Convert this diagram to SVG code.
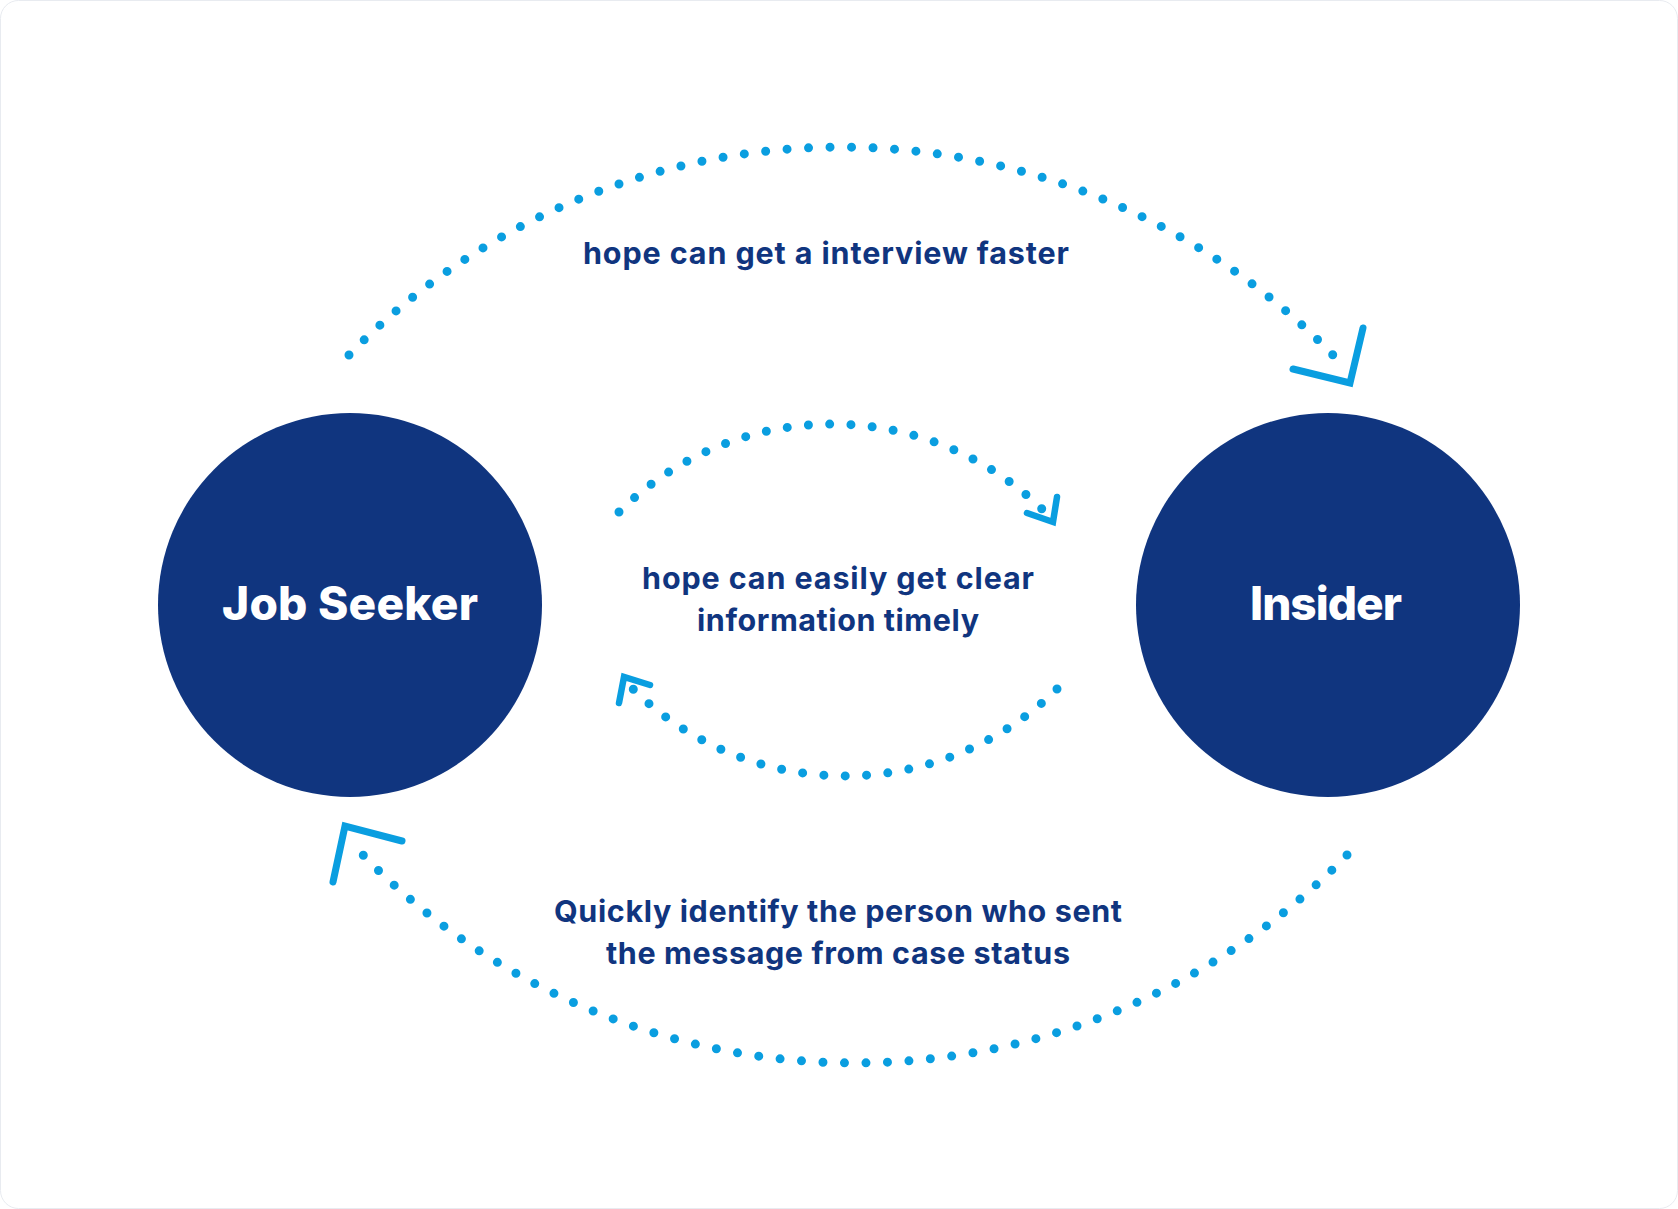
<svg xmlns="http://www.w3.org/2000/svg" width="1678" height="1209" viewBox="0 0 1678 1209">
  <style>
    .node { fill: #10357f; }
    .nodeText { font-family: "Inter", "Lato", "Liberation Sans", sans-serif; font-weight: 800; font-size: 46px; fill: #ffffff; text-anchor: middle; font-variant-ligatures: none; }
    .label { font-family: "Inter", "Lato", "Liberation Sans", sans-serif; font-weight: 700; font-size: 30.5px; fill: #10357f; text-anchor: middle; font-variant-ligatures: none; }
    .dots { fill: none; stroke: #0a9ee0; stroke-width: 9; stroke-linecap: round; stroke-dasharray: 0 1; }
    .head { fill: none; stroke: #0a9ee0; stroke-linecap: round; stroke-linejoin: miter; }
  </style>
  <rect x="0.5" y="0.5" width="1677" height="1208" rx="18" ry="18" fill="#ffffff" stroke="#e8ebf0" stroke-width="1"/>

  <g id="connectors">
    <g id="edge-top">
      <path class="dots" d="M 349 355 A 686 686 0 0 1 1333 355" pathLength="51.02"/>
      <polyline class="head" stroke-width="7" points="1293,369 1350,383 1363,328"/>
    </g>
    <g id="edge-bottom">
      <path class="dots" d="M 1347 855 A 686 686 0 0 1 363 855" pathLength="51.02"/>
      <polyline class="head" stroke-width="7" points="402,841 345,826 333,882"/>
    </g>
    <g id="edge-mid-top">
      <path class="dots" d="M 619 512 A 302 302 0 0 1 1042 509" pathLength="22.02"/>
      <polyline class="head" stroke-width="6.5" points="1027,513 1053,522 1057,497"/>
    </g>
    <g id="edge-mid-bottom">
      <path class="dots" d="M 1057 689 A 302 302 0 0 1 633 689" pathLength="22.02"/>
      <polyline class="head" stroke-width="6.5" points="650,685 624,677 619,703"/>
    </g>
  </g>

  <g id="labels">
    <text class="label" x="826" y="264" textLength="486" lengthAdjust="spacing">hope can get a interview faster</text>
    <text class="label" x="838" y="589" textLength="392" lengthAdjust="spacing">hope can easily get clear</text>
    <text class="label" x="838" y="631" textLength="282" lengthAdjust="spacing">information timely</text>
    <text class="label" x="838" y="922" textLength="568" lengthAdjust="spacing">Quickly identify the person who sent</text>
    <text class="label" x="838" y="964" textLength="464" lengthAdjust="spacing">the message from case status</text>
  </g>

  <g id="node-job-seeker">
    <circle class="node" cx="350" cy="605" r="192"/>
    <text class="nodeText" x="350" y="620" textLength="256" lengthAdjust="spacing">Job Seeker</text>
  </g>
  <g id="node-insider">
    <circle class="node" cx="1328" cy="605" r="192"/>
    <text class="nodeText" x="1326" y="620" textLength="152" lengthAdjust="spacing">Insider</text>
  </g>
</svg>
